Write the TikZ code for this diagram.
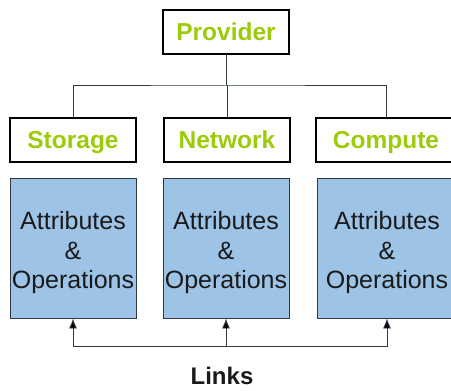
\documentclass[tikz,border=0pt]{standalone}
\usepackage{fontspec}
\setmainfont{Liberation Sans}
\usepackage{xcolor}
\usepackage{tikz}
\usetikzlibrary{arrows.meta,positioning,calc}
\definecolor{leaf}{HTML}{9CCB0C}
\definecolor{panel}{HTML}{9DC3E6}
\definecolor{edge}{HTML}{2E3944}
\definecolor{ink}{HTML}{1A1A1A}

\begin{document}
\begin{tikzpicture}[
    x=1pt, y=-1pt,
    head/.style={rectangle, draw=black, line width=1.6pt, fill=white,
                 text=leaf, font=\fontsize{24.5}{28}\selectfont\bfseries,
                 minimum width=126pt, minimum height=44pt, inner sep=0pt,
                 text height=17.5pt, text depth=0pt},
    attrbox/.style={rectangle, draw=edge, line width=0.9pt, fill=panel,
                    minimum height=140pt, inner sep=0pt},
    attrtext/.style={text=ink, align=center, inner sep=0pt,
                     font=\fontsize{25}{29.5}\selectfont},
    wire/.style={draw=edge, line width=0.9pt},
    arrow/.style={wire, -{Latex[length=10pt,width=8pt,fill=black]}}
]
\path[use as bounding box] (0,0) rectangle (451,391);

% Top level
\node[head] (prov) at (226,32) {Provider};

% Middle tier
\node[head] (stor) at (73,140) {Storage};
\node[head] (net) at (227,140) {Network};
\node[head, minimum width=140pt] (comp) at (386,140) {Compute};

% Attribute panels
\node[attrbox, minimum width=126pt] (sattr) at (73,248) {};
\node[attrbox, minimum width=126pt] (nattr) at (226,248) {};
\node[attrbox, minimum width=140pt] (cattr) at (387,248) {};
\foreach \p in {sattr,nattr,cattr}
  \node[attrtext] (\p txt) at ([yshift=-5pt]\p.center) {Attributes\\\&\\Operations};

% Links label
\node[font=\fontsize{24}{28}\selectfont\bfseries, text=ink, inner sep=0pt,
      text height=17.5pt, text depth=0pt] (links) at (222,376) {Links};

% Tree
\coordinate (bus) at (226,85);
\draw[wire] (prov.south) -- (bus);
\draw[wire] (stor.north) |- (bus) -| (comp.north);
\draw[wire] (net.north) -- (net.north |- bus);

% Links bus
\coordinate (lbus) at (226,346);
\draw[arrow] (lbus) -| (sattr.south);
\draw[arrow] (lbus) -| (cattr.south);
\draw[arrow] (lbus) -- (nattr.south);

\end{tikzpicture}
\end{document}
